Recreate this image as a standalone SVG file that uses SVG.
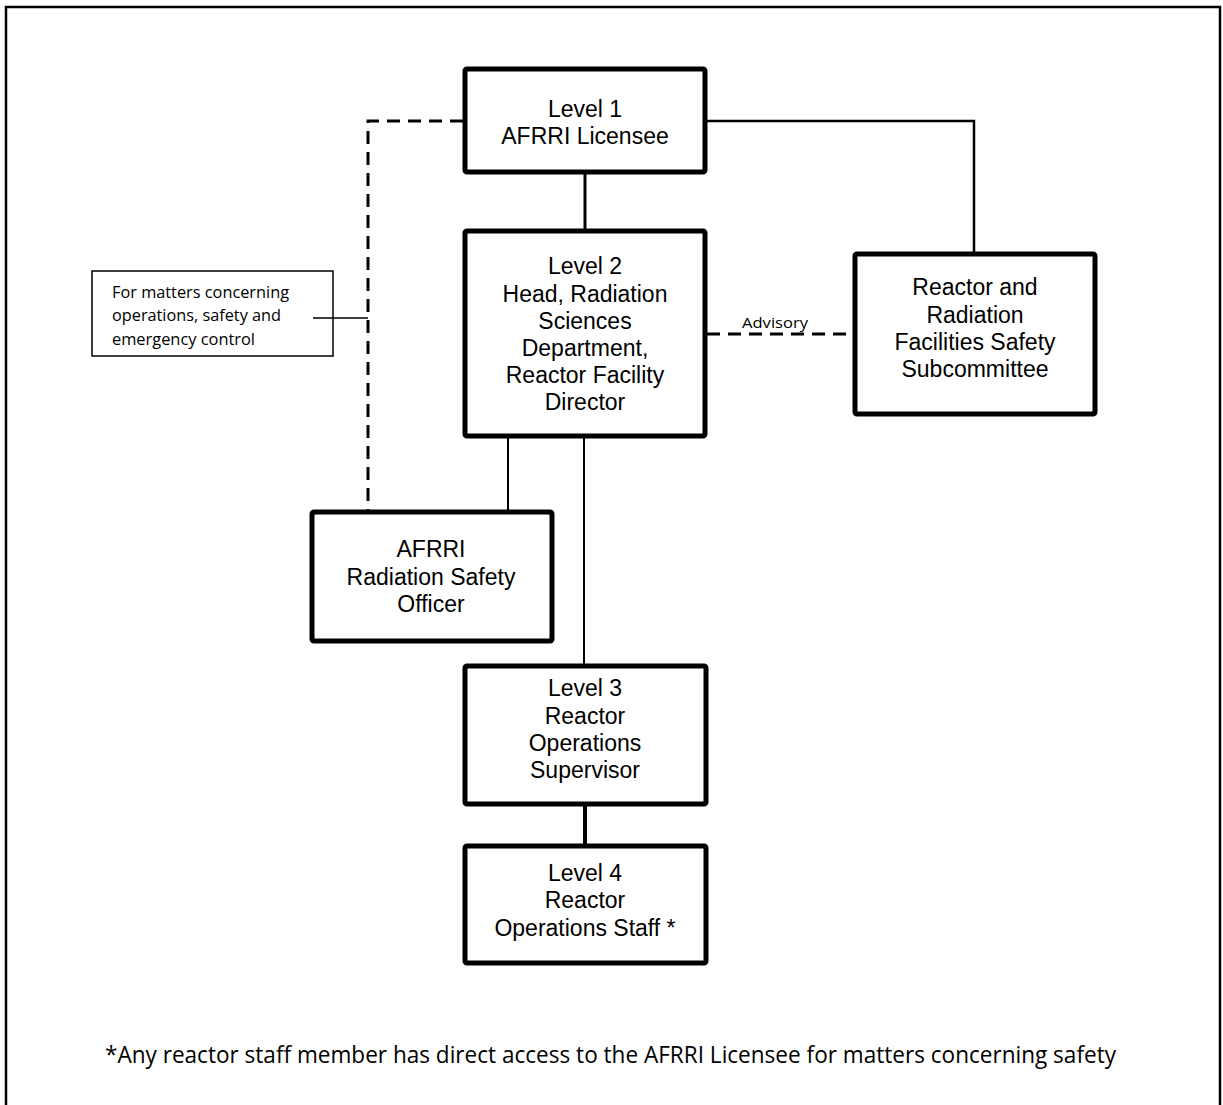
<svg xmlns="http://www.w3.org/2000/svg" width="1223" height="1105" viewBox="0 0 1223 1105">
<style>
.box{fill:#fff;stroke:#000;stroke-width:5;stroke-linejoin:round}
.note{fill:#fff;stroke:#000;stroke-width:1.5}
.t{font-family:"Liberation Sans",Arial,sans-serif;font-size:23px;fill:#000;text-anchor:middle}
.c{font-family:"Open Sans","Noto Sans",sans-serif;fill:#000}
.ln{fill:none;stroke:#000}
.dash{fill:none;stroke:#000;stroke-width:3;stroke-dasharray:13 8}
</style>
<rect x="6" y="7" width="1214" height="1120" fill="none" stroke="#000" stroke-width="2.5"/>
<g id="note">
<rect class="note" x="92" y="271" width="241" height="85"/>
<text class="c" font-size="16" x="112" y="298" textLength="177" lengthAdjust="spacingAndGlyphs">For matters concerning</text>
<text class="c" font-size="16" x="112" y="321" textLength="169" lengthAdjust="spacingAndGlyphs">operations, safety and</text>
<text class="c" font-size="16" x="112" y="345" textLength="143" lengthAdjust="spacingAndGlyphs">emergency control</text>
</g>
<g id="connectors">
<line class="ln" x1="585" y1="172" x2="585" y2="230" stroke-width="3"/>
<polyline class="ln" points="705,121 974,121 974,253" stroke-width="2.5"/>
<polyline class="dash" points="463,121 368,121 368,510"/>
<line class="ln" x1="313" y1="318" x2="368" y2="318" stroke-width="1.5"/>
<line class="dash" x1="707" y1="334" x2="853" y2="334"/>
<text class="c" x="742" y="328" font-size="15" textLength="66" lengthAdjust="spacingAndGlyphs">Advisory</text>
<line class="ln" x1="508" y1="437" x2="508" y2="510" stroke-width="2"/>
<line class="ln" x1="584" y1="437" x2="584" y2="665" stroke-width="2"/>
<line class="ln" x1="585" y1="805" x2="585" y2="845" stroke-width="4"/>
</g>
<g id="level1">
<rect class="box" x="465" y="69" width="240" height="103" rx="2"/>
<text class="t" x="585" y="117">Level 1</text>
<text class="t" x="585" y="144">AFRRI Licensee</text>
</g>
<g id="level2">
<rect class="box" x="465" y="231" width="240" height="205" rx="2"/>
<text class="t" x="585" y="274">Level 2</text>
<text class="t" x="585" y="302">Head, Radiation</text>
<text class="t" x="585" y="329">Sciences</text>
<text class="t" x="585" y="356">Department,</text>
<text class="t" x="585" y="383">Reactor Facility</text>
<text class="t" x="585" y="410">Director</text>
</g>
<g id="subcommittee">
<rect class="box" x="855" y="254" width="240" height="160" rx="2"/>
<text class="t" x="975" y="295">Reactor and</text>
<text class="t" x="975" y="323">Radiation</text>
<text class="t" x="975" y="350">Facilities Safety</text>
<text class="t" x="975" y="377">Subcommittee</text>
</g>
<g id="rso">
<rect class="box" x="312" y="512" width="240" height="129" rx="2"/>
<text class="t" x="431" y="557">AFRRI</text>
<text class="t" x="431" y="585">Radiation Safety</text>
<text class="t" x="431" y="612">Officer</text>
</g>
<g id="level3">
<rect class="box" x="465" y="666" width="241" height="138" rx="2"/>
<text class="t" x="585" y="696">Level 3</text>
<text class="t" x="585" y="724">Reactor</text>
<text class="t" x="585" y="751">Operations</text>
<text class="t" x="585" y="778">Supervisor</text>
</g>
<g id="level4">
<rect class="box" x="465" y="846" width="241" height="117" rx="2"/>
<text class="t" x="585" y="881">Level 4</text>
<text class="t" x="585" y="908">Reactor</text>
<text class="t" x="585" y="936">Operations Staff *</text>
</g>
<text class="c" font-size="24" x="105" y="1063" textLength="1011" lengthAdjust="spacingAndGlyphs">*Any reactor staff member has direct access to the AFRRI Licensee for matters concerning safety</text>
</svg>
